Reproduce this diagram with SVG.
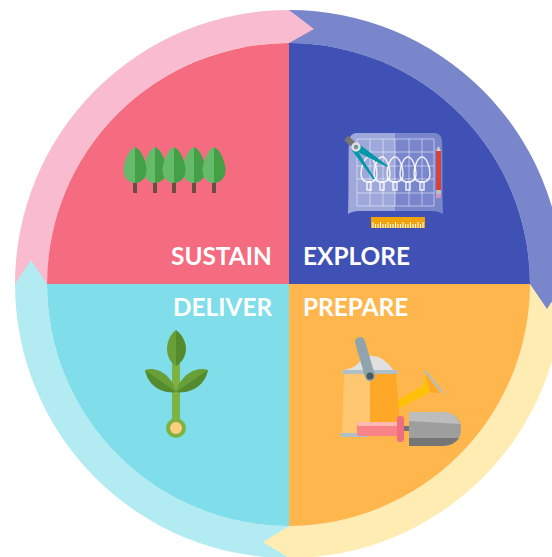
<svg xmlns="http://www.w3.org/2000/svg" width="552" height="557" viewBox="0 0 552 557">
<style>
.lbl{font-family:"Lato","Liberation Sans",sans-serif;font-weight:700;font-size:24.4px;fill:#fff}
.grid{stroke:#fff;stroke-opacity:.5;stroke-width:1;fill:none}
.bulb{stroke:#fff;stroke-opacity:.85;stroke-width:1.5;fill:none}
</style>
<defs>
<g id="tree">
<rect x="-2" y="34" width="4" height="12" fill="#6d4c41"/>
<path d="M0,0C-7,3-11,15-11.5,23C-11.5,31-6,36 0,36Z" fill="#66bb6a"/>
<path d="M0,0C7,3 11,15 11.5,23C11.5,31 6,36 0,36Z" fill="#43a047"/>
</g>
<g id="bulb">
<path class="bulb" d="M0,0C-4,0-8,9-8,17C-8,22-5,25 0,25C5,25 8,22 8,17C8,9 4,0 0,0Z"/>
<rect class="bulb" x="-2" y="25" width="4" height="8"/>
</g>
</defs>
<rect width="552" height="557" fill="#fff"/>
<g id="connectors">
<path d="M15,284A274,274 0 0 1 289,10V43A241,241 0 0 0 47,284Z" fill="#f8bbd0"/>
<path d="M289,10A274,274 0 0 1 563,284H530A241,241 0 0 0 289,43Z" fill="#7986cb"/>
<path d="M563,284A274,274 0 0 1 289,558V526A242,242 0 0 0 530,284Z" fill="#ffecb3"/>
<path d="M289,558A274,274 0 0 1 15,284H47A242,242 0 0 0 289,526Z" fill="#b2ebf2"/>
<polygon points="289,10 314,29 289,43" fill="#f8bbd0"/>
<polygon points="530,284 563,284 547,309" fill="#7986cb"/>
<polygon points="289,526 289,558 263,542" fill="#ffecb3"/>
<polygon points="15,284 47,284 31,260" fill="#b2ebf2"/>
</g>
<g id="sustain">
<path d="M289,284H47A242,241 0 0 1 289,43Z" fill="#f56c80"/>
<use href="#tree" x="155" y="147"/><use href="#tree" x="194" y="147"/>
<use href="#tree" x="135" y="147"/><use href="#tree" x="174" y="147"/><use href="#tree" x="214" y="147"/>
<text class="lbl" x="171" y="265">SUSTAIN</text>
</g>
<g id="explore">
<path d="M289,284V43A241,241 0 0 1 530,284Z" fill="#3f51b5"/>
<path d="M348,214C349,190 348,160 349,140Q350,134 356,133H395V211H360Q352,211 348,214Z" fill="#9fa8da"/>
<path d="M443,214C442,190 443,160 442,140Q441,134 435,133H395V211H431Q439,211 443,214Z" fill="#7986cb"/>
<path class="grid" d="M357,139V206M370,139V206M383,139V206M395,139V206M409,139V206M422,139V206M434,139V206M357,139H434M357,152H434M357,166H434M357,179H434M357,193H434M357,206H434"/>
<use href="#bulb" x="369" y="157"/><use href="#bulb" x="382" y="157"/><use href="#bulb" x="395" y="157"/><use href="#bulb" x="408" y="157"/><use href="#bulb" x="422" y="157"/>
<polygon points="354,150 359,144 388,166 387,167" fill="#0097a7"/>
<polygon points="351,149 357,150 375,179 373,179" fill="#0097a7"/>
<line x1="346" y1="138" x2="354" y2="145" stroke="#757575" stroke-width="6"/>
<circle cx="356" cy="147" r="3.500" fill="#78909c" stroke="#e0e0e0" stroke-width="2.500"/>
<polygon points="436,151 438.500,146 441,151" fill="#d7ccc8"/>
<rect x="436" y="151" width="5" height="39" fill="#d84339"/>
<rect x="436" y="190" width="5" height="4" fill="#bdbdbd"/>
<rect x="436" y="194" width="5" height="4" fill="#ce93b8"/>
<rect x="371" y="217" width="54" height="11" fill="#f0a30a"/>
<path d="M373,228v-6M375.500,228v-4M378,228v-4M380.500,228v-6M383,228v-4M385.500,228v-4M388,228v-6M390.500,228v-4M393,228v-4M395.500,228v-6M398,228v-4M400.500,228v-4M403,228v-6M405.500,228v-4M408,228v-4M410.500,228v-6M413,228v-4M415.500,228v-4M418,228v-6M420.500,228v-4M423,228v-6" stroke="#fff" stroke-width="1" fill="none"/>
</g>
<g id="deliver">
<path d="M289,284H47A242,242 0 0 0 289,526Z" fill="#80deea"/>
<rect x="172" y="362" width="8" height="60" fill="#7cb342"/>
<circle cx="176" cy="428" r="10" fill="#7cb342"/>
<circle cx="176" cy="428" r="6" fill="#ffcc80"/>
<path d="M176,330C170,334 167,342 167,349C167,357 171,363 176,366Z" fill="#689f38"/>
<path d="M176,330C182,334 186,342 186,349C186,357 181,363 176,366Z" fill="#558b2f"/>
<path d="M145,370C158,366 172,376 176,392C163,394 150,386 145,370Z" fill="#689f38"/>
<path d="M145,370C148,386 162,394 176,392Z" fill="#558b2f"/>
<path d="M208,370C195,366 180,376 176,392C190,394 203,386 208,370Z" fill="#689f38"/>
<path d="M208,370C205,386 190,394 176,392Z" fill="#558b2f"/>
<text class="lbl" x="173" y="316">DELIVER</text>
</g>
<g id="prepare">
<path d="M289,284H530A242,242 0 0 1 289,526Z" fill="#ffb74d"/>
<polygon points="398,400 424,385 425,373 430,392 398,409" fill="#ffc107"/>
<polygon points="425,373 440,393 430,392" fill="#ffa726"/>
<line x1="425" y1="371" x2="443" y2="393" stroke="#b0bec5" stroke-width="2"/>
<polygon points="344,374 370,374 370,433 342,433" fill="#ffc870"/>
<polygon points="370,374 396,374 400,425 370,425" fill="#ffa726"/>
<path d="M345,370Q358,367 362,358Q380,350 393,370Z" fill="#e0e0e0"/>
<rect x="342" y="370" width="56" height="4" rx="2" fill="#b0bec5"/>
<line x1="360" y1="342" x2="370" y2="376" stroke="#90a4ae" stroke-width="10" stroke-linecap="round"/>
<circle cx="370" cy="376" r="3.500" fill="#455a64"/>
<rect x="340" y="433" width="30" height="4" rx="2" fill="#b0bec5"/>
<rect x="357" y="422" width="42" height="14" rx="2" fill="#f88388"/>
<rect x="357" y="422" width="42" height="4" rx="2" fill="#ffb9b0"/>
<rect x="403" y="426" width="7" height="5" fill="#757575"/>
<rect x="397" y="416" width="7" height="26" rx="3" fill="#f16d80"/>
<path d="M409,412H443Q461,414 461,429Q461,444 443,446H409Z" fill="#9e9e9e"/>
<path d="M409,412H443Q457,413 460,424L409,421Z" fill="#bdbdbd"/>
<path d="M409,438H459Q455,445 443,446H409Z" fill="#757575"/>
<text class="lbl" x="303" y="316">PREPARE</text>
</g>
<g id="explore-label"><text class="lbl" x="303" y="265">EXPLORE</text></g>
</svg>
